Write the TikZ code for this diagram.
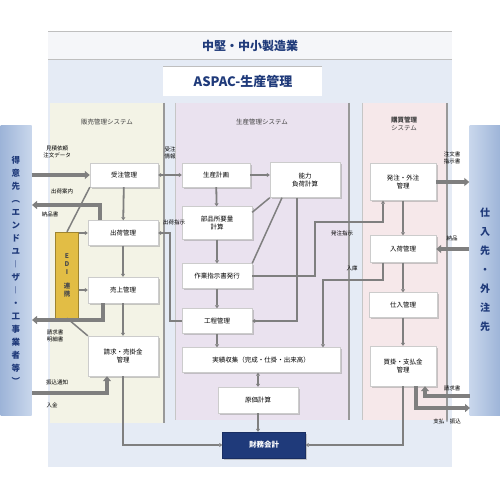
\documentclass[tikz,border=0pt]{standalone}
\usepackage{fontspec}
\setmainfont{Noto Sans CJK JP}
\usetikzlibrary{arrows.meta,shadows}

\definecolor{navy}{HTML}{1F3A7A}
\definecolor{topband}{HTML}{F5F6F9}
\definecolor{panel}{HTML}{E5EBF5}
\definecolor{salesbg}{HTML}{F3F3E6}
\definecolor{prodbg}{HTML}{EAE2EF}
\definecolor{purbg}{HTML}{F6E8EA}
\definecolor{bandL}{HTML}{9DB4D8}
\definecolor{bandR}{HTML}{C9D7EC}
\definecolor{ediyellow}{HTML}{E2BD45}
\definecolor{barcol}{HTML}{7F7F7F}

\begin{document}
\begin{tikzpicture}[x=1pt,y=-1pt,
  box/.style={draw=gray!40, fill=white, align=center, inner sep=1pt,
    drop shadow={shadow xshift=1.5pt, shadow yshift=-1.5pt, fill=gray!80},
    font=\fontsize{6.5}{8.5}\selectfont},
  darkbox/.style={draw=navy!80!black, fill=navy, text=white, align=center,
    drop shadow={shadow xshift=1.5pt, shadow yshift=-1.5pt, fill=gray!80},
    font=\fontsize{7.5}{9}\selectfont\bfseries},
  band/.style={left color=bandL, right color=bandR, draw=none,
    minimum width=31pt, minimum height=290pt, align=center, text=navy,
    font=\fontsize{8.5}{13}\selectfont\bfseries},
  link/.style={draw=barcol, line width=1.8pt, -{Triangle[length=3pt,width=4pt]}},
  line/.style={draw=barcol, line width=1.5pt},
  bar/.style={draw=barcol, line width=4pt, -{Triangle[length=5pt,width=8pt]}},
  lbl/.style={font=\fontsize{5.5}{6.5}\selectfont, align=center, inner sep=0.5pt},
  coltitle/.style={font=\fontsize{6.5}{8}\selectfont, text=black!75, align=center}]

\useasboundingbox (0,0) rectangle (500,500);

% Panels
\fill[panel] (48,60) rectangle (452,467);
\fill[topband] (48,32) rectangle (452,60);
\draw[gray!50, line width=1pt] (48,32) -- (452,32);
\draw[gray!50, line width=1pt] (48,60) -- (452,60);
\node[font=\fontsize{12}{14}\selectfont\bfseries, text=navy] (corp) at (250,46) {中堅・中小製造業};
\fill[white] (163,66) rectangle (322,96);
\draw[gray!50, line width=0.8pt] (163,66) -- (322,66);
\node[font=\fontsize{13}{15}\selectfont\bfseries, text=navy] (aspac) at (243,82) {ASPAC-生産管理};

% Columns
\fill[salesbg] (50,103) rectangle (163,423);
\fill[prodbg] (175,103) rectangle (349,420);
\fill[purbg] (362,103) rectangle (447,420);
\draw[gray!80, line width=1.2pt] (164,103) -- (164,423);
\draw[gray!45, line width=0.8pt] (175,103) -- (175,420);
\draw[gray!80, line width=1.2pt] (349,103) -- (349,420);
\draw[gray!45, line width=0.8pt] (362,103) -- (362,420);
\draw[gray!80, line width=1.2pt] (447,103) -- (447,420);

\node[coltitle] (tsales) at (107,122) {販売管理システム};
\node[coltitle] (tprod) at (262,122) {生産管理システム};
\node[coltitle] (tpur) at (404,124) {\bfseries 購買管理\\システム};

% Partners
\node[band] (cust) at (16,270) {得\\意\\先\\︵\\エ\\ン\\ド\\ユ\\︱\\ザ\\︱\\・\\工\\事\\業\\者\\等\\︶};
\node[band, left color=bandR, right color=bandL, font=\fontsize{10}{19}\selectfont\bfseries] (supp) at (485,270) {仕\\入\\先\\・\\外\\注\\先};

% Sales boxes
\node[box, minimum width=68pt, minimum height=24pt] (order) at (124,175) {受注管理};
\node[box, minimum width=70pt, minimum height=25pt] (ship) at (123,233) {出荷管理};
\node[box, minimum width=70pt, minimum height=26pt] (sales) at (123,290) {売上管理};
\node[box, minimum width=70pt, minimum height=40pt] (bill) at (123,356) {請求・売掛金\\管理};
\node[draw=ediyellow!70!black, fill=ediyellow, minimum width=23pt, minimum height=86pt,
  align=center, font=\fontsize{6.5}{8}\selectfont\bfseries, text=black!70] (edi) at (67,275) {E\\D\\I\\[6pt]連\\携};

% Production boxes
\node[box, minimum width=68pt, minimum height=24pt] (plan) at (216,175) {生産計画};
\node[box, minimum width=70pt, minimum height=35pt] (load) at (305,180) {能力\\負荷計算};
\node[box, minimum width=70pt, minimum height=33pt] (mrp) at (217,223) {部品所要量\\計算};
\node[box, minimum width=70pt, minimum height=25pt] (inst) at (217,276) {作業指示書発行};
\node[box, minimum width=70pt, minimum height=25pt] (proc) at (217,321) {工程管理};
\node[box, minimum width=158pt, minimum height=25pt] (result) at (261,360) {実績収集（完成・仕掛・出来高）};
\node[box, minimum width=80pt, minimum height=26pt] (cost) at (258,400) {原価計算};
\node[darkbox, minimum width=83pt, minimum height=26pt] (acct) at (264,445) {財務会計};

% Purchase boxes
\node[box, minimum width=66pt, minimum height=37pt] (po) at (403,182) {発注・外注\\管理};
\node[box, minimum width=66pt, minimum height=27pt] (recv) at (403,249) {入荷管理};
\node[box, minimum width=68pt, minimum height=25pt] (buy) at (403,305) {仕入管理};
\node[box, minimum width=66pt, minimum height=40pt] (pay) at (403,366) {買掛・支払金\\管理};

% Coordinates on the partner bands and bends
\coordinate (c1) at (32,205);
\coordinate (c2) at (32,320);
\coordinate (c3) at (32,393);
\coordinate (c4) at (315,222);
\coordinate (c5) at (323,280);
\coordinate (c6) at (170,233);
\coordinate (c7) at (470,396);
\coordinate (c8) at (470,408);

% Sales flow
\draw[link] (order) -- (ship);
\draw[link] (ship) -- (sales);
\draw[link] (sales) -- (bill);
\draw[link] (bill.south) |- (acct.west);
\draw[line] (edi.north) -- (order.south west);
\draw[line] (edi.south) -- (bill.north west);
\draw[link] (edi.east |- ship) -- (ship.west);
\draw[link] (edi.east |- sales) -- (sales.west);

\draw[bar] (cust.east |- order) -- (order.west);
\draw[bar] ([xshift=-23pt]ship.north) |- (c1);
\draw[bar] ([xshift=-20pt]sales.south) |- (c2);
\draw[bar] (c3) -| ([xshift=-16pt]bill.south);

\node[lbl] (l1) at (57,152) {見積依頼\\注文データ};
\node[lbl] (l2) at (62,191) {出荷案内};
\node[lbl] (l3) at (50,214) {納品書};
\node[lbl] (l4) at (55,336) {請求書\\明細書};
\node[lbl] (l5) at (57,382) {振込通知};
\node[lbl] (l6) at (52,405) {入金};

% Production flow
\draw[link, {Triangle[length=3pt,width=4pt]}-{Triangle[length=3pt,width=4pt]}] (order.east) -- (plan.west);
\node[lbl] (l7) at (170,153) {受注\\情報};
\draw[link] (plan) -- (plan -| load.west);
\draw[link] (plan) -- (mrp);
\draw[link] (mrp) -- (inst);
\draw[link] (inst) -- (proc);
\draw[link] (proc.south) -- (proc.south |- result.north);
\draw[link, {Triangle[length=3pt,width=4pt]}-{Triangle[length=3pt,width=4pt]}] (cost.north) -- (cost.north |- result.south);
\draw[link] (cost.south) -- (cost.south |- acct.north);
\draw[line] (load.south west) -- ([yshift=-6pt]mrp.north east);
\draw[line] ([xshift=-23pt]load.south) -- (inst.north east);
\draw[link] ([xshift=-8pt]load.south) |- (proc.east);
\draw[link] (proc.west) -| (c6) -- (ship.east);
\node[lbl] (l8) at (174,222) {出荷指示};
\draw[link] (inst.east) -| (c4) -| ([xshift=-20pt]po.south);
\node[lbl] (l9) at (342,233) {発注指示};
\draw[link] ([xshift=-20pt]recv.south) |- (c5) -- (c5 |- result.north);
\node[lbl] (l10) at (352,268) {入庫};

% Purchase flow
\draw[link] (po) -- (recv);
\draw[link] (recv) -- (buy);
\draw[link] (buy) -- (pay);
\draw[link] (pay.south) |- (acct.east);

\draw[bar] (po.east) -- (po.east -| supp.west);
\draw[bar] (recv.east -| supp.west) -- (recv.east);
\draw[bar] (c7) -| ([xshift=22pt]pay.south);
\draw[bar] ([xshift=13pt]pay.south) |- (c8);

\node[lbl] (l11) at (452,158) {注文書\\指示書};
\node[lbl] (l12) at (452,238) {納品};
\node[lbl] (l13) at (452,388) {請求書};
\node[lbl] (l14) at (447,421) {支払・振込};

\end{tikzpicture}
\end{document}
